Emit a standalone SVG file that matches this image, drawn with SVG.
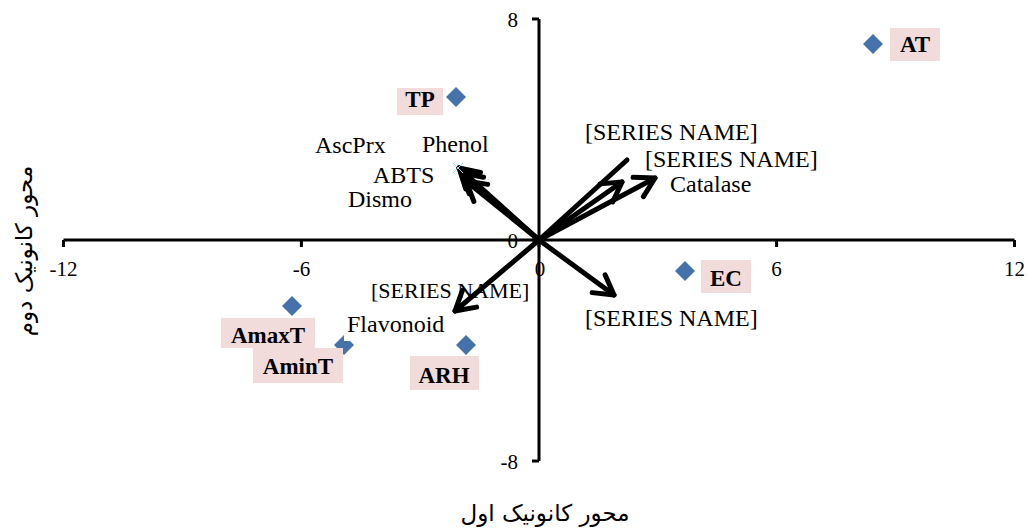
<svg xmlns="http://www.w3.org/2000/svg" xmlns:xlink="http://www.w3.org/1999/xlink" width="1028" height="528" viewBox="0 0 1028 528">
<style>
.ax{stroke:#000;stroke-width:3;fill:none}
.tk{font-family:"Liberation Serif","Times New Roman",serif;font-size:21px;fill:#000}
.lb{font-family:"Liberation Serif","Times New Roman",serif;font-size:24px;fill:#000}
.pt{font-family:"Liberation Serif","Times New Roman",serif;font-size:23px;font-weight:bold;fill:#000}
.box{fill:#F2DCDB}
.vec{stroke:#000;stroke-width:5;fill:none;stroke-linecap:round;stroke-linejoin:round}
.fa{font-family:"DejaVu Sans","Noto Sans",sans-serif;font-size:23px;fill:#000}
</style>
<defs>
<marker id="ah" viewBox="-26 -15 30 30" refX="0" refY="0" markerWidth="30" markerHeight="30" markerUnits="userSpaceOnUse" orient="auto" overflow="visible">
<path d="M-19,-11 L0,0 L-19,11" fill="none" stroke="#000" stroke-width="5" stroke-linecap="round" stroke-linejoin="round"/>
</marker>
<path id="dm" d="M0,-10 L10,0 L0,10 L-10,0Z" fill="#4672AC"/>
</defs>
<rect width="1028" height="528" fill="#fff"/>
<g id="axes">
<path class="ax" d="M63.5,240 H1014.5 M63.5,240 V247 M301.4,240 V247 M776.6,240 V247 M1014.5,240 V247 M539,240 V247"/>
<path class="ax" d="M539,19 V461 M532,19 H539 M532,240 H539 M532,461 H539"/>
<text class="tk" x="518" y="27" text-anchor="end">8</text>
<text class="tk" x="518" y="248" text-anchor="end">0</text>
<text class="tk" x="518" y="469" text-anchor="end">-8</text>
<text class="tk" x="63.5" y="276" text-anchor="middle">-12</text>
<text class="tk" x="301.4" y="276" text-anchor="middle">-6</text>
<text class="tk" x="540" y="276" text-anchor="middle">0</text>
<text class="tk" x="776.6" y="276" text-anchor="middle">6</text>
<text class="tk" x="1014.5" y="276" text-anchor="middle">12</text>
<text class="fa" x="545" y="521" text-anchor="middle" direction="rtl">محور کانونیک اول</text>
<text class="fa" transform="translate(32,251) rotate(-90)" text-anchor="middle" direction="rtl">محور کانونیک دوم</text>
</g>
<g id="connectors">
<line class="vec" x1="539" y1="240" x2="459" y2="168" marker-end="url(#ah)"/>
<line class="vec" x1="539" y1="240" x2="462" y2="173" marker-end="url(#ah)"/>
<line class="vec" x1="539" y1="240" x2="466" y2="181" marker-end="url(#ah)"/>
<line class="vec" x1="539" y1="240" x2="627" y2="160"/>
<line class="vec" x1="539" y1="240" x2="622" y2="182" marker-end="url(#ah)"/>
<line class="vec" x1="539" y1="240" x2="655" y2="178" marker-end="url(#ah)"/>
<line class="vec" x1="539" y1="240" x2="614" y2="295" marker-end="url(#ah)"/>
<line class="vec" x1="539" y1="240" x2="455" y2="311" marker-end="url(#ah)"/>
<path d="M453,163 L463,173 M463,163 L453,173" stroke="#8fd3e8" stroke-width="1"/>
</g>
<g id="node-AminT"><use xlink:href="#dm" x="344" y="345"/><rect class="box" x="253" y="348" width="90" height="35"/><text class="pt" x="298" y="374" text-anchor="middle">AminT</text></g>
<g id="vector-labels">
<text class="lb" x="315" y="153">AscPrx</text>
<text class="lb" x="422" y="152">Phenol</text>
<text class="lb" x="373" y="183">ABTS</text>
<text class="lb" x="348" y="207">Dismo</text>
<text class="lb" x="585" y="140">[SERIES NAME]</text>
<text class="lb" x="645" y="167">[SERIES NAME]</text>
<text class="lb" x="670" y="192">Catalase</text>
<text class="lb" x="371" y="298" style="font-size:22px">[SERIES NAME]</text>
<rect x="344" y="314" width="104" height="27" fill="#fff"/>
<text class="lb" x="347" y="332">Flavonoid</text>
<text class="lb" x="585" y="326">[SERIES NAME]</text>
</g>
<g id="node-AmaxT"><use xlink:href="#dm" x="292" y="306"/><rect class="box" x="221" y="318" width="94" height="30"/><text class="pt" x="268" y="343" text-anchor="middle">AmaxT</text></g>
<g id="node-TP"><use xlink:href="#dm" x="456" y="97"/><rect class="box" x="397" y="88" width="46" height="27"/><text class="pt" x="420" y="107" text-anchor="middle">TP</text></g>
<g id="node-AT"><use xlink:href="#dm" x="873" y="44"/><rect class="box" x="890" y="28" width="50" height="33"/><text class="pt" x="915" y="52" text-anchor="middle">AT</text></g>
<g id="node-EC"><use xlink:href="#dm" x="685" y="271"/><rect class="box" x="701" y="260" width="50" height="33"/><text class="pt" x="726" y="286" text-anchor="middle">EC</text></g>
<g id="node-ARH"><use xlink:href="#dm" x="466" y="345"/><rect class="box" x="410" y="356" width="69" height="34"/><text class="pt" x="444" y="383" text-anchor="middle">ARH</text></g>
</svg>
